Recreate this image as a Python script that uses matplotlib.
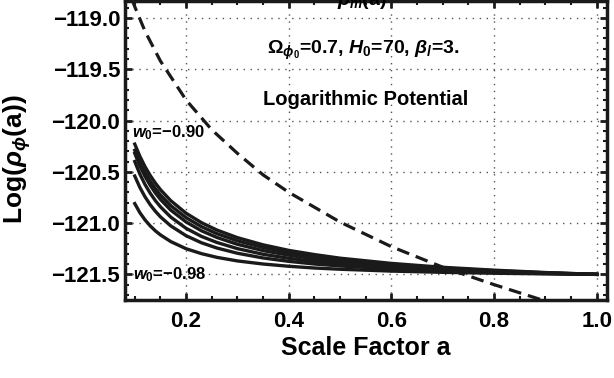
import numpy as np
import matplotlib
matplotlib.use("Agg")
import matplotlib.pyplot as plt
from matplotlib.ticker import MultipleLocator

plt.rcParams['font.family'] = ['Liberation Sans', 'DejaVu Sans']
plt.rcParams['font.weight'] = 'bold'
plt.rcParams['mathtext.fontset'] = 'custom'
plt.rcParams['mathtext.rm'] = 'Liberation Sans:bold'
plt.rcParams['mathtext.it'] = 'Liberation Sans:bold:italic'
plt.rcParams['mathtext.bf'] = 'Liberation Sans:bold'

# scale factor samples
a_vals = [0.1, 0.11, 0.12, 0.13, 0.14, 0.15, 0.17, 0.2, 0.23, 0.26,
          0.3, 0.35, 0.4, 0.45, 0.5, 0.6, 0.7, 0.8, 0.9, 1.0]

# Log(rho_phi) for the six w0 curves, top (w0=-0.90) to bottom (w0=-0.98)
rho_c1 = [-120.230, -120.349, -120.450, -120.535, -120.609, -120.674, -120.781, -120.904, -120.996, -121.068,
          -121.142, -121.212, -121.266, -121.307, -121.342, -121.393, -121.431, -121.459, -121.482, -121.500]
rho_c2 = [-120.290, -120.408, -120.506, -120.590, -120.663, -120.726, -120.830, -120.947, -121.035, -121.103,
          -121.173, -121.238, -121.288, -121.326, -121.357, -121.404, -121.438, -121.464, -121.484, -121.500]
rho_c3 = [-120.320, -120.443, -120.545, -120.631, -120.705, -120.769, -120.873, -120.989, -121.075, -121.140,
          -121.207, -121.268, -121.313, -121.348, -121.376, -121.418, -121.448, -121.470, -121.487, -121.500]
rho_c4 = [-120.400, -120.523, -120.624, -120.708, -120.780, -120.841, -120.941, -121.051, -121.130, -121.189,
          -121.249, -121.304, -121.343, -121.374, -121.398, -121.433, -121.458, -121.476, -121.489, -121.500]
rho_c5 = [-120.541, -120.653, -120.744, -120.820, -120.884, -120.939, -121.027, -121.123, -121.192, -121.243,
          -121.294, -121.340, -121.373, -121.399, -121.418, -121.447, -121.467, -121.481, -121.492, -121.500]
rho_c6 = [-120.810, -120.899, -120.969, -121.027, -121.075, -121.115, -121.180, -121.250, -121.298, -121.334,
          -121.369, -121.399, -121.421, -121.438, -121.450, -121.468, -121.480, -121.489, -121.495, -121.500]
phi_curves = [rho_c1, rho_c2, rho_c3, rho_c4, rho_c5, rho_c6]

# matter density (dashed)
a_m = [0.09, 0.1, 0.12, 0.15, 0.2, 0.25, 0.3, 0.35, 0.4, 0.5, 0.6, 0.7, 0.8, 0.9, 1.0]
rho_m = [-118.76, -118.89, -119.13, -119.42, -119.80, -120.09, -120.32, -120.53, -120.70, -120.99,
         -121.23, -121.43, -121.60, -121.76, -121.89]

xticks = [0.2, 0.4, 0.6, 0.8, 1.0]
yticks = [-119.0, -119.5, -120.0, -120.5, -121.0, -121.5]

fig = plt.figure(figsize=(6.14, 3.78), dpi=100)
ax = fig.add_axes([0.2036, 0.2063, 0.785, 0.791])

for vals in phi_curves:
    ax.plot(a_vals, vals, color='#1a1a1a', lw=2.4)
ax.plot(a_m, rho_m, color='#1a1a1a', lw=2.3, dashes=(4, 2.2))

ax.set_xlim(0.081, 1.02)
ax.set_ylim(-121.75, -118.835)
ax.set_xticks(xticks)
ax.set_yticks(yticks)
ax.set_xticklabels([f"{t:.1f}" for t in xticks])
ax.set_yticklabels([f"\u2212{abs(t):.1f}" for t in yticks])
ax.xaxis.set_minor_locator(MultipleLocator(0.05))
ax.yaxis.set_minor_locator(MultipleLocator(0.1))
ax.tick_params(which='both', direction='in', top=True, right=True, labelsize=16, color='#1a1a1a')
ax.tick_params(which='major', length=5, width=2)
ax.tick_params(which='minor', length=3, width=1.5)
ax.tick_params(axis='x', pad=8)
for s in ax.spines.values():
    s.set_linewidth(2.5)
    s.set_color('#1a1a1a')
ax.grid(True, which='major', color='#555555', ls=(0, (1, 4)), lw=1.0)

ax.set_xlabel('Scale Factor a', fontsize=18, fontweight='bold', labelpad=3)
ax.set_ylabel(r'Log($\rho_\phi$(a))', fontsize=19, fontweight='bold')
ax.yaxis.set_label_coords(-0.19, 0.47)

ax.text(0.494, 0.836, r'$\Omega_{\phi_0}$=0.7, $H_0$=70, $\beta_l$=3.', transform=ax.transAxes,
        ha='center', va='center', fontsize=14)
ax.text(0.50, 0.669, 'Logarithmic Potential', transform=ax.transAxes,
        ha='center', va='center', fontsize=14.5)
ax.text(0.095, -120.12, r'$w_0$=' + '\u22120.90', ha='left', va='center', fontsize=12)
ax.text(0.097, -121.5, r'$w_0$=' + '\u22120.98', ha='left', va='center', fontsize=12)
fig.text(362 / 614, 1 - 5 / 378, r'$\rho_m$(a)', ha='center', va='baseline', fontsize=14)

fig.savefig('out.png', dpi=100)
